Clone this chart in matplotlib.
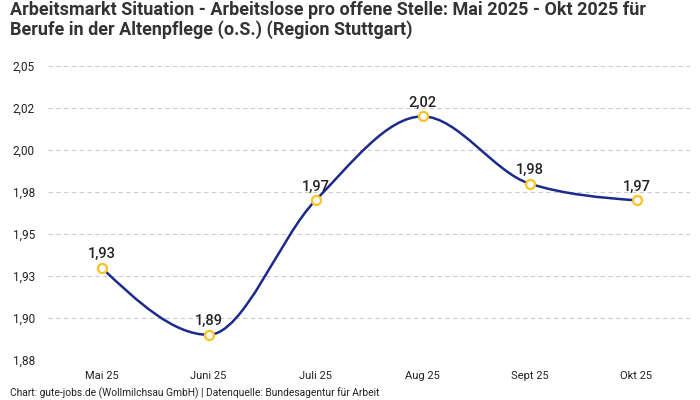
import numpy as np
import matplotlib
matplotlib.use("Agg")
import matplotlib.pyplot as plt
from matplotlib.path import Path
from matplotlib.patches import PathPatch
from matplotlib.ticker import FuncFormatter

plt.rcParams['font.family'] = ['Roboto', 'DejaVu Sans']

months = ["Mai 25", "Juni 25", "Juli 25", "Aug 25", "Sept 25", "Okt 25"]
values = [1.93, 1.89, 1.97, 2.02, 1.98, 1.97]
y_ticks = [1.875, 1.9, 1.925, 1.95, 1.975, 2.0, 2.025, 2.05]

title = ("Arbeitsmarkt Situation - Arbeitslose pro offene Stelle: Mai 2025 - Okt 2025 für\n"
         "Berufe in der Altenpflege (o.S.) (Region Stuttgart)")
footer = "Chart: gute-jobs.de (Wollmilchsau GmbH) | Datenquelle: Bundesagentur für Arbeit"

line_color = "#1b2a8c"
marker_color = "#f7c325"
text_color = "#222222"


def monotone_path(xs, ys):
    # d3 style monotoneX curve as cubic bezier segments
    xs = np.asarray(xs, float)
    ys = np.asarray(ys, float)
    n = len(xs)
    h = np.diff(xs)
    s = np.diff(ys) / h
    t = np.zeros(n)
    for i in range(1, n - 1):
        p = (s[i - 1] * h[i] + s[i] * h[i - 1]) / (h[i - 1] + h[i])
        t[i] = (np.sign(s[i - 1]) + np.sign(s[i])) * min(abs(s[i - 1]), abs(s[i]), 0.5 * abs(p))
    t[0] = (3 * s[0] - t[1]) / 2
    t[-1] = (3 * s[-1] - t[-2]) / 2
    verts = [(xs[0], ys[0])]
    codes = [Path.MOVETO]
    for i in range(n - 1):
        dx = h[i] / 3
        verts += [(xs[i] + dx, ys[i] + dx * t[i]),
                  (xs[i + 1] - dx, ys[i + 1] - dx * t[i + 1]),
                  (xs[i + 1], ys[i + 1])]
        codes += [Path.CURVE4] * 3
    return Path(verts, codes)


fig = plt.figure(figsize=(7, 4), dpi=100)
ax = fig.add_axes([48 / 700, 0.1, 642 / 700, 0.735])

x = np.arange(len(months))
ax.add_patch(PathPatch(monotone_path(x, values), facecolor="none",
                       edgecolor=line_color, lw=1.8, zorder=3))
ax.plot(x, values, ls="none", marker="o", ms=6.5, mfc="white",
        mec=marker_color, mew=1.6, zorder=4)

for xi, v in zip(x, values):
    ax.annotate(f"{v:.2f}".replace(".", ","), (xi, v), xytext=(0, 5),
                textcoords="offset points", ha="center", va="bottom",
                fontsize=10.5, fontweight="medium", color=text_color)

ax.set_xlim(-0.5, len(months) - 0.5)
ax.set_ylim(y_ticks[0], y_ticks[-1])
ax.set_xticks(x)
ax.set_xticklabels(months)
ax.set_yticks(y_ticks)
ax.yaxis.set_major_formatter(FuncFormatter(lambda v, p: f"{v:.2f}".replace(".", ",")))
ax.tick_params(axis="both", length=0, labelsize=8, colors=text_color)
ax.tick_params(axis="y", labelsize=8.5, pad=9.5)
ax.tick_params(axis="x", pad=8)
ax.grid(axis="y", color="#cccccc", ls=(0, (4, 3)), lw=0.8)
for sp in ax.spines.values():
    sp.set_visible(False)

fig.text(10 / 700, 1 - 1 / 400, title, ha="left", va="top", fontsize=13,
         fontweight="bold", color="#333333", linespacing=1.05)
fig.text(10 / 700, 1 - 393 / 400, footer, ha="left", va="center", fontsize=7.4,
         color=text_color)

fig.savefig("out.png", dpi=100)
